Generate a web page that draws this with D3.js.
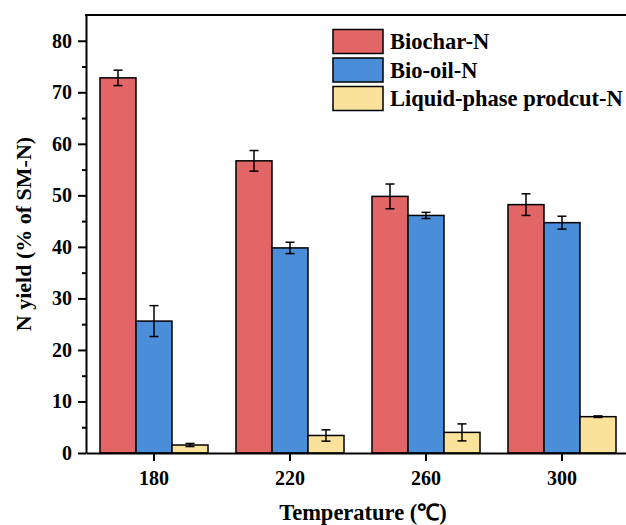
<!DOCTYPE html>
<html>
<head>
<meta charset="utf-8">
<script src="https://cdn.jsdelivr.net/npm/d3@7"></script>
<style>
	body { margin: 0; background: #fff; }
</style>
</head>
<body>
<div id="chart"></div>
<script>
'use strict'

// Donnees
var temperatures = ["180", "220", "260", "300"];
var series = ["Biochar-N", "Bio-oil-N", "Liquid-phase prodcut-N"];
var biocharN = [72.8, 56.7, 49.8, 48.2];
var biocharErr = [1.5, 2.0, 2.4, 2.1];
var biooilN = [25.6, 39.8, 46.1, 44.7];
var biooilErr = [3.0, 1.1, 0.6, 1.25];
var liquidN = [1.55, 3.4, 4.0, 7.05];
var liquidErr = [0.3, 1.1, 1.65, 0.15];
var yTicks = [0, 10, 20, 30, 40, 50, 60, 70, 80];
var yMinorTicks = [5, 15, 25, 35, 45, 55, 65, 75];
var colors = ["#e26666", "#4a8ed9", "#fae29a"];

var width = 626;
var height = 525;
var margin = {top: 15, left: 86, bottom: 72};
var plotRight = 630; // le cadre droit sort de l'image
var FONT = "'Liberation Serif'";

var svg = d3.select("#chart")
	.append("svg")
	.attr("width", width)
	.attr("height", height);

var y = d3.scaleLinear()
	.domain([0, 85])
	.range([height - margin.bottom, margin.top]);

var x0 = d3.scaleBand()
	.domain(temperatures)
	.range([margin.left, plotRight])
	.padding(0);

var x1 = d3.scaleBand()
	.domain(series)
	.range([0, x0.bandwidth()])
	.paddingInner(0)
	.paddingOuter(0.389);

var values = [biocharN, biooilN, liquidN];
var errors = [biocharErr, biooilErr, liquidErr];

var rows = [];
temperatures.forEach(function(t, i){
	series.forEach(function(s, j){
		rows.push({t: t, s: s, k: j, v: values[j][i], e: errors[j][i]});
	});
});

// Barres
svg.append("g")
	.selectAll("rect")
	.data(rows)
	.enter()
	.append("rect")
		.attr("x", function(d){ return x0(d.t) + x1(d.s); })
		.attr("y", function(d){ return y(d.v); })
		.attr("width", x1.bandwidth())
		.attr("height", function(d){ return y(0) - y(d.v); })
		.attr("fill", function(d){ return colors[d.k]; })
		.attr("stroke", "#000")
		.attr("stroke-width", 1.5);

// Barres d'erreur
var err = svg.append("g")
	.selectAll("g")
	.data(rows)
	.enter()
	.append("g")
		.attr("stroke", "#000")
		.attr("stroke-width", 1.5);

function cx(d){ return x0(d.t) + x1(d.s) + x1.bandwidth() / 2; }

err.append("line")
	.attr("x1", cx).attr("x2", cx)
	.attr("y1", function(d){ return y(d.v + d.e); })
	.attr("y2", function(d){ return y(d.v - d.e); });
err.append("line")
	.attr("x1", function(d){ return cx(d) - 4.5; })
	.attr("x2", function(d){ return cx(d) + 4.5; })
	.attr("y1", function(d){ return y(d.v + d.e); })
	.attr("y2", function(d){ return y(d.v + d.e); });
err.append("line")
	.attr("x1", function(d){ return cx(d) - 4.5; })
	.attr("x2", function(d){ return cx(d) + 4.5; })
	.attr("y1", function(d){ return y(d.v - d.e); })
	.attr("y2", function(d){ return y(d.v - d.e); });

// Axes
svg.append("g")
	.attr("transform", "translate(" + margin.left + ",0)")
	.call(d3.axisLeft(y).tickValues(yTicks).tickSize(8).tickSizeOuter(0).tickPadding(6));

svg.append("g")
	.attr("transform", "translate(" + margin.left + ",0)")
	.call(d3.axisLeft(y).tickValues(yMinorTicks).tickSize(4).tickSizeOuter(0).tickFormat(""))
	.select(".domain").remove();

svg.append("g")
	.attr("transform", "translate(0," + y(0) + ")")
	.call(d3.axisBottom(x0).tickSize(8).tickSizeOuter(0).tickPadding(10));

svg.selectAll(".tick line, .domain")
	.attr("stroke", "#000")
	.attr("stroke-width", 2);

// Cadre du haut
svg.append("line")
	.attr("x1", margin.left - 1).attr("x2", plotRight)
	.attr("y1", margin.top).attr("y2", margin.top)
	.attr("stroke", "#000")
	.attr("stroke-width", 2);

// Titres des axes
svg.append("text")
	.attr("transform", "translate(31," + (y(42.5)) + ") rotate(-90)")
	.attr("text-anchor", "middle")
	.style("font-size", "22px")
	.text("N yield (% of SM-N)");

svg.append("text")
	.attr("x", (margin.left + plotRight) / 2 + 5)
	.attr("y", 520)
	.attr("text-anchor", "middle")
	.style("font-size", "22.5px")
	.text("Temperature (℃)");

// Legende
var legend = svg.append("g")
	.selectAll("g")
	.data(series)
	.enter()
	.append("g")
		.attr("transform", function(d, i){ return "translate(333," + (29.5 + i * 28.5) + ")"; });

legend.append("rect")
	.attr("width", 50)
	.attr("height", 24)
	.attr("fill", function(d, i){ return colors[i]; })
	.attr("stroke", "#000")
	.attr("stroke-width", 1.5);

legend.append("text")
	.attr("x", 57)
	.attr("y", 19.5)
	.style("font-size", "22.5px")
	.text(function(d){ return d; });

// Police pour tous les textes
svg.selectAll("text")
	.style("font-family", FONT)
	.style("font-weight", "bold")
	.attr("fill", "#000");
svg.selectAll(".tick text")
	.style("font-size", "20px");
</script>
</body>
</html>
